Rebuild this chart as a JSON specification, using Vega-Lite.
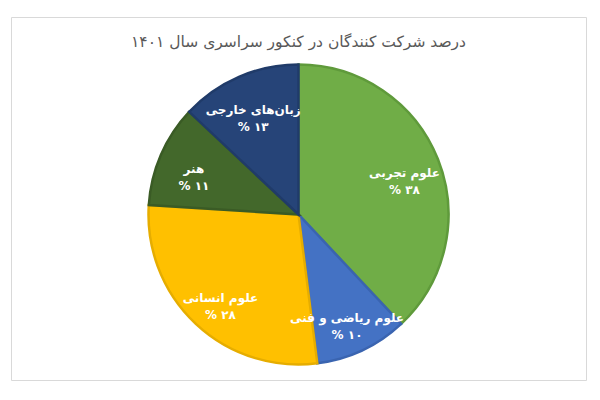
{
  "$schema": "https://vega.github.io/schema/vega-lite/v6.json",
  "width": 600,
  "height": 400,
  "autosize": {"type": "fit", "contains": "padding"},
  "padding": {"left": 11, "top": 17, "right": 14, "bottom": 20},
  "background": "white",
  "view": {"stroke": "#d9d9d9", "strokeWidth": 1, "fill": "white"},
  "title": {
    "text": "درصد شرکت کنندگان در کنکور سراسری سال ۱۴۰۱",
    "font": "DejaVu Sans",
    "fontSize": 15.5,
    "fontWeight": "normal",
    "color": "#595959",
    "anchor": "middle",
    "offset": -33
  },
  "data": {
    "values": [
      {"subject": "علوم تجربی", "percent": 38, "percent_fa": "۳۸", "rank": 1},
      {"subject": "علوم ریاضی و فنی", "percent": 10, "percent_fa": "۱۰", "rank": 2},
      {"subject": "علوم انسانی", "percent": 28, "percent_fa": "۲۸", "rank": 3},
      {"subject": "هنر", "percent": 11, "percent_fa": "۱۱", "rank": 4},
      {"subject": "زبان‌های خارجی", "percent": 13, "percent_fa": "۱۳", "rank": 5}
    ]
  },
  "transform": [
    {"calculate": "datum.subject + '\\n% ' + datum.percent_fa", "as": "label"}
  ],
  "encoding": {
    "theta": {"field": "percent", "type": "quantitative", "stack": true},
    "order": {"field": "rank", "type": "quantitative"}
  },
  "layer": [
    {
      "mark": {"type": "arc", "outerRadius": 150, "yOffset": 16, "strokeWidth": 2.5},
      "encoding": {
        "color": {
          "field": "subject",
          "type": "nominal",
          "legend": null,
          "scale": {
            "domain": ["علوم تجربی", "علوم ریاضی و فنی", "علوم انسانی", "هنر", "زبان‌های خارجی"],
            "range": ["#70ad47", "#4472c4", "#ffc000", "#43682b", "#264478"]
          }
        },
        "stroke": {
          "field": "subject",
          "type": "nominal",
          "legend": null,
          "scale": {
            "domain": ["علوم تجربی", "علوم ریاضی و فنی", "علوم انسانی", "هنر", "زبان‌های خارجی"],
            "range": ["#5f9a3b", "#3a64b0", "#e6ad00", "#3a5b25", "#203b69"]
          }
        }
      }
    },
    {
      "mark": {
        "type": "text",
        "radius": 114,
        "yOffset": 16,
        "fill": "white",
        "font": "DejaVu Sans",
        "fontWeight": "bold",
        "fontSize": 12,
        "lineBreak": "\n",
        "lineHeight": 17
      },
      "encoding": {
        "text": {"field": "label", "type": "nominal"}
      }
    }
  ],
  "config": {
    "view": {"stroke": "#d9d9d9", "strokeWidth": 1}
  }
}
